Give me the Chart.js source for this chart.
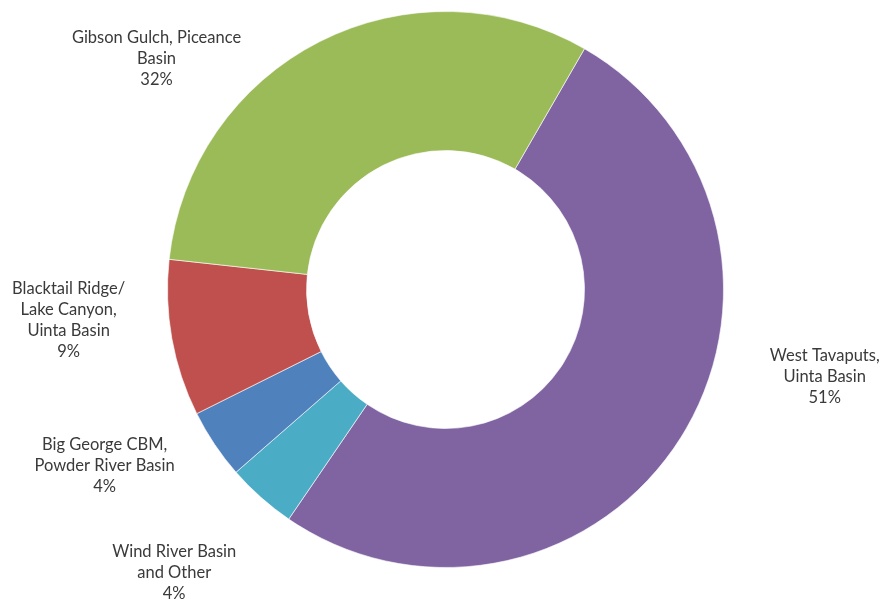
<!DOCTYPE html>
<html>
<head>
<meta charset="utf-8">
<script src="https://cdn.jsdelivr.net/npm/chart.js@4/dist/chart.umd.min.js"></script>
<style>
    html, body { margin: 0; padding: 0; background: #fff; }
    #wrap { width: 882px; height: 599px; position: relative; }
</style>
</head>
<body>
<div id="wrap"><canvas id="fieldChart"></canvas></div>
<script>
// Share of production by field (percent)
const fieldNames = [
    ["West Tavaputs,", "Uinta Basin"],
    ["Wind River Basin", "and Other"],
    ["Big George CBM,", "Powder River Basin"],
    ["Blacktail Ridge/", "Lake Canyon,", "Uinta Basin"],
    ["Gibson Gulch, Piceance", "Basin"]
];
const fieldShares = [51.2, 4.05, 4.05, 9.1, 31.6];
const fieldColors = ["#8064A2", "#4BACC6", "#4F81BD", "#C0504D", "#9BBB59"];

// Where each label sits round the ring: angle from top (deg) and distance as a multiple of the outer radius
const labelAngles = [103, 223.8, 242.7, 265.4, 308.6];
const labelDistances = [1.40, 1.41, 1.38, 1.36, 1.33];

const outsideLabels = {
    id: "outsideLabels",
    afterDatasetsDraw(chart) {
        const ctx = chart.ctx;
        const meta = chart.getDatasetMeta(0);
        const values = chart.data.datasets[0].data;
        const total = values.reduce((a, b) => a + b, 0);
        const lineH = 21;

        ctx.save();
        ctx.font = "16.5px Lato, 'Open Sans', sans-serif";
        ctx.fillStyle = "#3a3a3a";
        ctx.textAlign = "center";
        ctx.textBaseline = "middle";

        meta.data.forEach((arc, i) => {
            const a = labelAngles[i] * Math.PI / 180;
            const r = arc.outerRadius * labelDistances[i];
            const cx = arc.x + Math.sin(a) * r;
            const cy = arc.y - Math.cos(a) * r;
            const lines = chart.data.labels[i].concat([Math.round(values[i] / total * 100) + "%"]);
            const top = cy - (lines.length - 1) * lineH / 2;
            lines.forEach((txt, k) => ctx.fillText(txt, cx, top + k * lineH));
        });
        ctx.restore();
    }
};

new Chart(document.getElementById("fieldChart"), {
    type: "doughnut",
    data: {
        labels: fieldNames,
        datasets: [{
            data: fieldShares,
            backgroundColor: fieldColors,
            borderColor: "rgba(255,255,255,0.6)",
            borderWidth: 1
        }]
    },
    options: {
        responsive: true,
        maintainAspectRatio: false,
        animation: false,
        rotation: 30,
        cutout: "50%",
        layout: { padding: { left: 167, right: 158, top: 10, bottom: 30 } },
        plugins: {
            legend: { display: false },
            tooltip: { enabled: false }
        }
    },
    plugins: [outsideLabels]
});
</script>
</body>
</html>
